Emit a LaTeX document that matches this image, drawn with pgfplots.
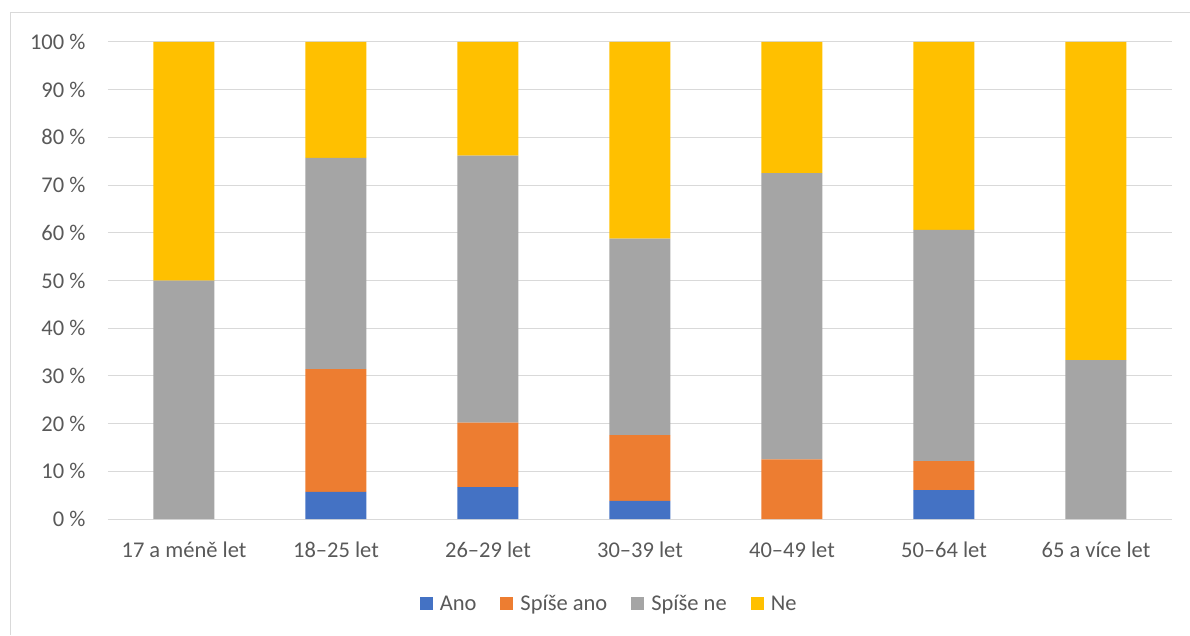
\documentclass[border=0pt]{standalone}
\usepackage{pgfplots}
\pgfplotsset{compat=1.18}
\usepackage{fontspec}
\setmainfont{Carlito}

\definecolor{cAno}{HTML}{4472C4}
\definecolor{cSpAno}{HTML}{ED7D31}
\definecolor{cSpNe}{HTML}{A5A5A5}
\definecolor{cNe}{HTML}{FFC000}
\definecolor{txt}{HTML}{595959}
\definecolor{grd}{HTML}{D9D9D9}

% Answer shares (percent) per age group: 0 = 17 a méně let ... 6 = 65 a více let
\pgfplotstableread{
x  ano   spano  spne  ne
0  0     0      50.0  50.0
1  5.7   25.7   44.3  24.3
2  6.7   13.5   56.0  23.8
3  3.8   13.8   41.2  41.2
4  0     12.5   60.0  27.5
5  6.06  6.06   48.5  39.38
6  0     0      33.3  66.7
}\datatable

\begin{document}
\begin{tikzpicture}[x=1pt,y=1pt]
\useasboundingbox (0,0) rectangle (1190,635);
\draw[grd, line width=1pt] (10,0) -- (10,622) -- (1190,622);
\begin{axis}[
  at={(108pt,116pt)}, anchor=south west,
  scale only axis, width=1064pt, height=477pt,
  ybar stacked, bar width=61pt,
  xmin=-0.5, xmax=6.5, ymin=0, ymax=100,
  xtick={0,...,6},
  xticklabels={17 a méně let,18–25 let,26–29 let,30–39 let,40–49 let,50–64 let,65 a více let},
  ytick={0,10,...,100},
  yticklabels={0 \%,10 \%,20 \%,30 \%,40 \%,50 \%,60 \%,70 \%,80 \%,90 \%,100 \%},
  tick style={draw=none},
  axis line style={draw=none},
  ymajorgrids, grid style={grd, line width=1pt},
  tick label style={font=\fontsize{22.5}{27}\selectfont, text=txt},
  xticklabel style={yshift=-19pt},
  yticklabel style={xshift=-19pt},
  legend columns=4,
  legend style={at={(0.471,-0.178)}, anchor=center, draw=none, fill=none,
    font=\fontsize{22.5}{27}\selectfont, text=txt,
    /tikz/every even column/.append style={column sep=22pt},
    /tikz/every odd column/.append style={column sep=5pt}},
  legend image code/.code={\fill[#1] (0pt,-6.5pt) rectangle (13pt,6.5pt);},
]
\addplot[fill=cAno, draw=none] table[x=x, y=ano] {\datatable};
\addplot[fill=cSpAno, draw=none] table[x=x, y=spano] {\datatable};
\addplot[fill=cSpNe, draw=none] table[x=x, y=spne] {\datatable};
\addplot[fill=cNe, draw=none] table[x=x, y=ne] {\datatable};
\legend{Ano,Spíše ano,Spíše ne,Ne}
\end{axis}
\end{tikzpicture}
\end{document}
